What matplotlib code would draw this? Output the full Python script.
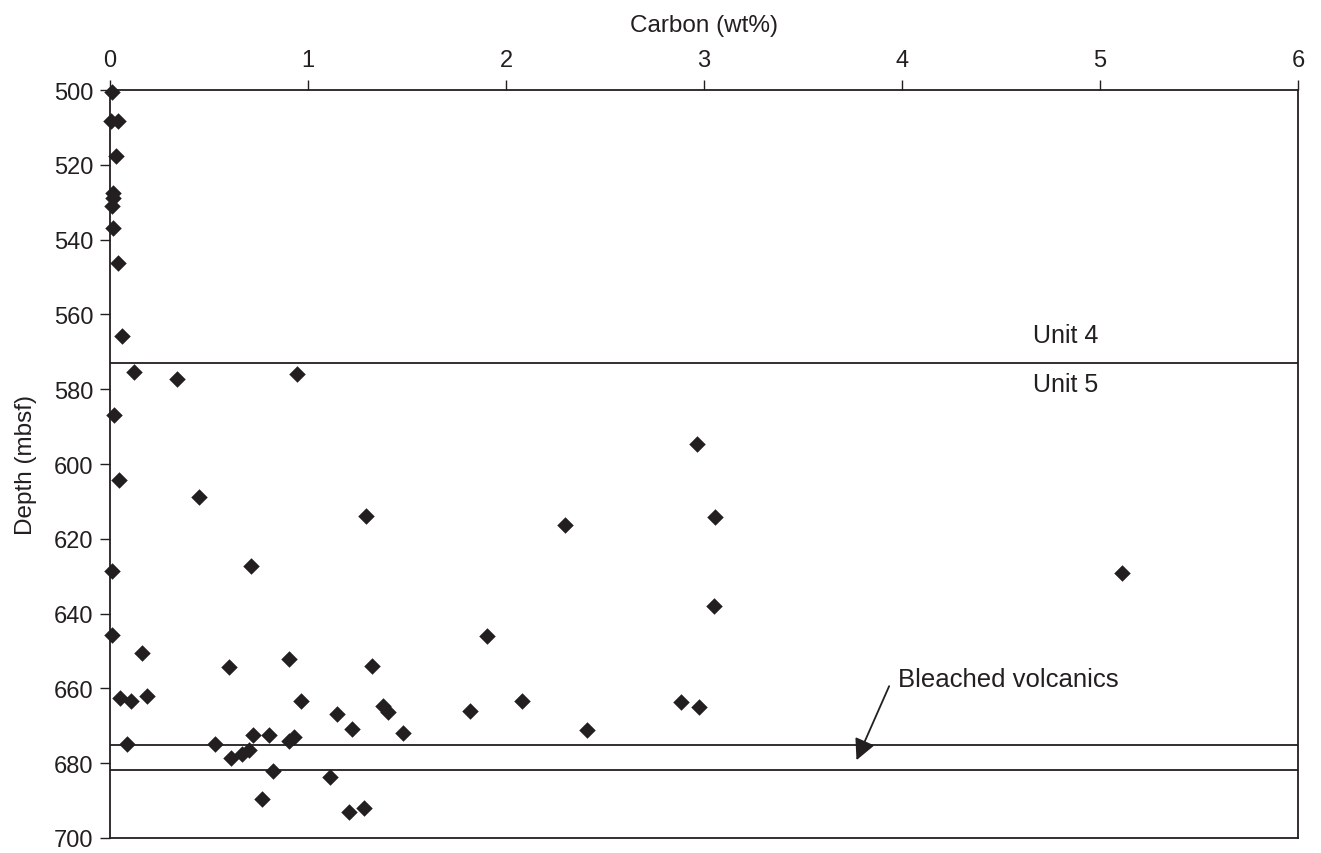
import matplotlib
matplotlib.use("Agg")
import matplotlib.pyplot as plt

plt.rcParams['font.family'] = ['Liberation Sans', 'DejaVu Sans']

carbon = [0.01, 0.005, 0.04, 0.03, 0.014, 0.014, 0.012, 0.017, 0.04, 0.06,
          0.12, 0.337, 0.946, 0.022, 0.047, 0.451, 2.965, 1.293, 2.30, 3.056,
          0.712, 0.01, 5.11, 3.05, 0.01, 1.902, 0.16, 0.906, 0.601, 1.323,
          0.05, 0.104, 0.188, 0.966, 1.377, 1.406, 1.148, 1.22, 1.481, 1.818,
          2.079, 2.407, 2.882, 2.976, 0.084, 0.53, 0.724, 0.801, 0.906, 0.929,
          0.609, 0.665, 0.704, 0.825, 1.111, 0.766, 1.209, 1.283]
depth = [500.5, 508.3, 508.3, 517.6, 527.4, 529.0, 531.0, 536.8, 546.3, 565.8,
         575.3, 577.3, 575.9, 586.9, 604.2, 608.9, 594.7, 613.8, 616.2, 614.2,
         627.2, 628.5, 629.1, 638.1, 645.7, 645.9, 650.6, 652.2, 654.2, 653.9,
         662.7, 663.3, 662.0, 663.3, 664.8, 666.4, 666.8, 670.9, 672.0, 666.0,
         663.5, 671.1, 663.6, 664.9, 674.9, 675.0, 672.5, 672.4, 674.2, 673.1,
         678.7, 677.5, 676.6, 682.2, 683.8, 689.6, 693.1, 692.1]

unit_boundary = 573.0
bleached_top = 675.1
bleached_bottom = 681.7
x_ticks = [0, 1, 2, 3, 4, 5, 6]
y_ticks = [500, 520, 540, 560, 580, 600, 620, 640, 660, 680, 700]

ink = '#231f20'
fig = plt.figure(figsize=(13.21, 8.54), dpi=100)
ax = fig.add_axes([0.0833, 0.0176, 0.8993, 0.8758])

ax.scatter(carbon, depth, marker='D', s=8.4**2, color=ink, zorder=3, clip_on=False, linewidths=0)

for d in (unit_boundary, bleached_top, bleached_bottom):
    ax.axhline(d, color=ink, lw=1.3, zorder=2)

ax.set_xlim(0, 6)
ax.set_ylim(700, 500)
ax.xaxis.tick_top()
ax.xaxis.set_label_position('top')
ax.set_xticks(x_ticks)
ax.set_yticks(y_ticks)
ax.tick_params(axis='both', direction='out', length=7, width=1, color=ink,
               labelsize=17, labelcolor=ink, pad=5)
ax.tick_params(axis='x', pad=7)
ax.set_xlabel('Carbon (wt%)', fontsize=17.5, color=ink, labelpad=13)
ax.set_ylabel('Depth (mbsf)', fontsize=17.5, color=ink, labelpad=12)
for s in ax.spines.values():
    s.set_color(ink)
    s.set_linewidth(1.3)

ax.text(4.66, 565.5, 'Unit 4', fontsize=18, color=ink, va='center', ha='left')
ax.text(4.66, 578.6, 'Unit 5', fontsize=18, color=ink, va='center', ha='left')
ax.text(3.98, 657.6, 'Bleached volcanics', fontsize=18.5, color=ink, va='center', ha='left')
ax.annotate('', xy=(3.77, 679.2), xytext=(3.935, 659.4),
            arrowprops=dict(arrowstyle='-|>', color=ink, lw=1.3,
                            mutation_scale=32, shrinkA=0, shrinkB=0))

fig.savefig('out.png', dpi=100)
